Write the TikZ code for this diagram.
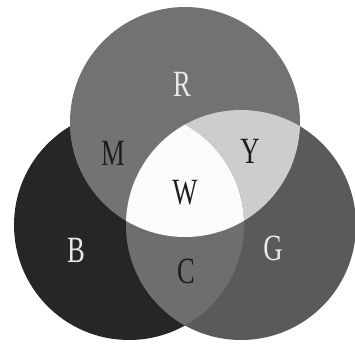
\documentclass[tikz,border=0pt]{standalone}
\usepackage{fontspec}
\setmainfont{Liberation Serif}[FakeStretch=0.72]
\definecolor{cR}{HTML}{727272}
\definecolor{cB}{HTML}{262626}
\definecolor{cG}{HTML}{5A5A5A}
\definecolor{cM}{HTML}{737373}
\definecolor{cY}{HTML}{CDCDCD}
\definecolor{cC}{HTML}{6E6E6E}
\definecolor{cW}{HTML}{FBFBFB}
\definecolor{lightlab}{HTML}{E8E8E8}
\definecolor{darklab}{HTML}{1E1E1E}
\tikzset{
  lab/.style={font=\fontsize{37}{37}\selectfont, inner sep=0pt},
  lightl/.style={lab, text=lightlab},
  darkl/.style={lab, text=darklab}
}
\begin{document}
\begin{tikzpicture}[x=1pt,y=-1pt]
\useasboundingbox (0,0) rectangle (355,343);
\fill[white] (0,0) rectangle (355,343);
\def\rad{115}
\coordinate (Rc) at (185,122);
\coordinate (Bc) at (129,225);
\coordinate (Gc) at (241,225);
% single circles
\fill[cB] (Bc) circle[radius=\rad];
\fill[cG] (Gc) circle[radius=\rad];
\fill[cR] (Rc) circle[radius=\rad];
% M = R and B
\begin{scope}
  \clip (Rc) circle[radius=\rad];
  \fill[cM] (Bc) circle[radius=\rad];
\end{scope}
% Y = R and G
\begin{scope}
  \clip (Rc) circle[radius=\rad];
  \fill[cY] (Gc) circle[radius=\rad];
\end{scope}
% C = B and G
\begin{scope}
  \clip (Bc) circle[radius=\rad];
  \fill[cC] (Gc) circle[radius=\rad];
\end{scope}
% W = all three
\begin{scope}
  \clip (Rc) circle[radius=\rad];
  \clip (Bc) circle[radius=\rad];
  \fill[cW] (Gc) circle[radius=\rad];
\end{scope}
% labels
\node[lightl] (lR) at (182,84) {R};
\node[darkl]  (lM) at (113,153) {M};
\node[darkl]  (lY) at (250,151) {Y};
\node[darkl]  (lW) at (185,193) {W};
\node[lightl] (lB) at (76,250) {B};
\node[lightl] (lG) at (273,248) {G};
\node[darkl]  (lC) at (186,271) {C};
\end{tikzpicture}
\end{document}
